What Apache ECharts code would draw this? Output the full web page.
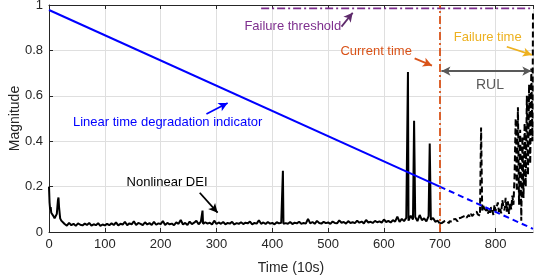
<!DOCTYPE html>
<html>
<head>
<meta charset="utf-8">
<script src="https://cdn.jsdelivr.net/npm/echarts@6/dist/echarts.min.js"></script>
<style>
  html, body { margin: 0; padding: 0; background: #fff; }
  #chart { width: 534px; height: 278px; }
</style>
</head>
<body>
<div id="chart"></div>
<script>
// ---- data ----
const xTicks = [0, 100, 200, 300, 400, 500, 600, 700, 800];
const yTicks = [0, 0.2, 0.4, 0.6, 0.8, 1];
const xMax = 867;

// nonlinear DEI, solid part (0 - 700), sampled every 4 time units
const deiSolidStep = 4;
const deiSolid = [
  0.200, 0.085, 0.070, 0.065, 0.140, 0.060, 0.045,
  0.035, 0.028, 0.040, 0.030, 0.036, 0.027, 0.038, 0.032, 0.029, 0.037,
  0.031, 0.040, 0.028, 0.034, 0.030, 0.039, 0.027, 0.033, 0.029, 0.036,
  0.030, 0.038, 0.031, 0.042, 0.029, 0.036, 0.033, 0.045, 0.030, 0.038,
  0.034, 0.047, 0.031, 0.040, 0.036, 0.030, 0.043, 0.033, 0.039, 0.031,
  0.045, 0.032, 0.038, 0.035, 0.048, 0.031, 0.040, 0.034, 0.037, 0.030,
  0.042, 0.036, 0.053, 0.033, 0.040, 0.031, 0.046, 0.035, 0.041, 0.050,
  0.034, 0.045, 0.036, 0.043, 0.037, 0.041, 0.033, 0.050, 0.035, 0.042,
  0.036, 0.044, 0.034, 0.040, 0.037, 0.045, 0.033, 0.039, 0.036, 0.043,
  0.035, 0.041, 0.038, 0.046, 0.034, 0.040, 0.037, 0.052, 0.036, 0.042,
  0.035, 0.044, 0.037, 0.040, 0.034, 0.043, 0.038, 0.041, 0.036, 0.039,
  0.036, 0.044, 0.035, 0.041, 0.038, 0.045, 0.036, 0.040, 0.037, 0.058,
  0.038, 0.044, 0.036, 0.049, 0.040, 0.037, 0.045, 0.039, 0.042, 0.036,
  0.046, 0.040, 0.038, 0.051, 0.041, 0.044, 0.037, 0.048, 0.040, 0.043,
  0.039, 0.050, 0.041, 0.046, 0.038, 0.053, 0.042, 0.045, 0.040, 0.049,
  0.043, 0.047, 0.041, 0.055, 0.044, 0.049, 0.042, 0.052, 0.046, 0.068,
  0.045, 0.058, 0.048, 0.062,
  0.050, 0.072, 0.055, 0.066, 0.048, 0.075, 0.052, 0.060, 0.047, 0.070,
  0.054, 0.062, 0.045, 0.050, 0.038
];
// extra samples between the regular ones (start-up transient and spikes)
const deiSolidExtra = [
  [1, 0.130], [2, 0.100], [3, 0.110], [6, 0.090], [10, 0.060], [14, 0.080],
  [17, 0.152], [18, 0.110], [22, 0.050],
  [275, 0.094], [419, 0.270], [643, 0.705], [654, 0.490], [682, 0.390]
];

// nonlinear DEI, dashed part (700 - 867), sampled every 2 time units
const deiDashStep = 2;
const deiDash = [
  0.038, 0.045, 0.040, 0.036, 0.047, 0.042, 0.050, 0.044, 0.039, 0.048,
  0.052, 0.045, 0.055, 0.049, 0.058, 0.051, 0.047, 0.060, 0.054, 0.063,
  0.057, 0.068, 0.060, 0.072, 0.063, 0.058, 0.075, 0.066, 0.080, 0.070,
  0.064, 0.082, 0.074, 0.090, 0.078, 0.085, 0.072, 0.460, 0.095, 0.115,
  0.100, 0.088, 0.105, 0.080, 0.095, 0.078, 0.110, 0.098, 0.075, 0.120,
  0.092, 0.085, 0.130, 0.088, 0.105, 0.082, 0.140, 0.115, 0.095, 0.150,
  0.090, 0.135, 0.080, 0.130, 0.100, 0.160, 0.120, 0.250,
  0.500, 0.180, 0.550, 0.120, 0.450, 0.050, 0.420, 0.150, 0.480, 0.200,
  0.600, 0.250, 0.650, 0.300, 0.720, 0.400
];
const deiDashExtra = [[867, 0.970]];

// linear time degradation indicator
const linSolidT = [0, 700];
const linSolidV = [0.978, 0.200];
const linDashT = [700, 867];
const linDashV = [0.200, 0.014];

// failure threshold and current time
const thresholdT = [380, 867];
const thresholdV = 0.985;
const currentTime = 700;

// ---- helpers ----
function samples(t0, step, vals, extra) {
  const pts = vals.map((v, i) => [t0 + i * step, v]).concat(extra);
  pts.sort((a, b) => a[0] - b[0]);
  return pts;
}
function pairs(ts, vs) {
  return ts.map((t, i) => [t, Array.isArray(vs) ? vs[i] : vs]);
}

const FONT = '"Liberation Sans", Arial, Helvetica, sans-serif';
const AXIS = '#262626';
const dashDot = [8, 3, 2, 3];

function arrow(from, to, color, both) {
  return [
    { coord: from, symbol: both ? 'arrow' : 'none', lineStyle: { color: color, width: 1.8, type: 'solid' } },
    { coord: to, symbol: 'arrow' }
  ];
}

const chart = echarts.init(document.getElementById('chart'), null, { renderer: 'canvas' });

const option = {
  backgroundColor: '#fff',
  animation: false,
  grid: { left: 49, right: 1, top: 5, bottom: 46, outerBoundsMode: 'none' },
  xAxis: [
    {
      type: 'value', min: 0, max: xMax, interval: 100,
      name: 'Time (10s)', nameLocation: 'middle', nameGap: 29,
      nameTextStyle: { color: AXIS, fontSize: 14, fontFamily: FONT },
      axisLine: { lineStyle: { color: AXIS, width: 1 } },
      axisTick: { inside: true, length: 4, lineStyle: { color: AXIS } },
      axisLabel: { color: AXIS, fontSize: 13, fontFamily: FONT, margin: 6, showMaxLabel: false },
      splitLine: { show: true, lineStyle: { color: '#dfdfdf', width: 1 } }
    },
    {
      // box line on top
      type: 'value', position: 'top', min: 0, max: xMax, interval: 100,
      axisLine: { show: true, lineStyle: { color: AXIS, width: 1 } },
      axisTick: { show: true, inside: true, length: 4, lineStyle: { color: AXIS } },
      axisLabel: { show: false },
      splitLine: { show: false }
    }
  ],
  yAxis: {
    type: 'value', min: 0, max: 1, interval: 0.2,
    name: 'Magnitude', nameLocation: 'middle', nameGap: 27, nameMoveOverlap: false,
    nameTextStyle: { color: AXIS, fontSize: 14, fontFamily: FONT },
    axisLine: { show: true, lineStyle: { color: AXIS, width: 1 } },
    axisTick: { show: true, inside: true, length: 4, lineStyle: { color: AXIS } },
    axisLabel: { color: AXIS, fontSize: 13, fontFamily: FONT, margin: 6 },
    splitLine: { show: true, lineStyle: { color: '#dfdfdf', width: 1 } }
  },
  series: [
    {
      name: 'Nonlinear DEI', type: 'line', symbol: 'none',
      data: samples(0, deiSolidStep, deiSolid, deiSolidExtra),
      lineStyle: { color: '#000', width: 2 }, z: 3
    },
    {
      name: 'Nonlinear DEI (future)', type: 'line', symbol: 'none',
      data: samples(700, deiDashStep, deiDash, deiDashExtra),
      lineStyle: { color: '#000', width: 2, type: [6, 3] }, z: 3
    },
    {
      name: 'Linear', type: 'line', symbol: 'none',
      data: pairs(linSolidT, linSolidV),
      lineStyle: { color: '#0000FF', width: 2 }, z: 4
    },
    {
      name: 'Linear (future)', type: 'line', symbol: 'none',
      data: pairs(linDashT, linDashV),
      lineStyle: { color: '#0000FF', width: 2, type: [6, 4] }, z: 4
    },
    {
      name: 'Failure threshold', type: 'line', symbol: 'none',
      data: pairs(thresholdT, thresholdV),
      lineStyle: { color: '#7E2F8E', width: 1.8, type: dashDot }, z: 4
    },
    {
      name: 'annotations', type: 'line', data: [], z: 5,
      markLine: {
        silent: true, animation: false,
        symbol: ['none', 'none'], symbolSize: [7, 9],
        label: { show: false },
        data: [
          { xAxis: currentTime, lineStyle: { color: '#D95319', width: 1.8, type: dashDot } },
          arrow([524, 0.905], [544, 0.966], '#5E2A6B'),
          arrow([655, 0.765], [686, 0.733], '#D95319'),
          arrow([820, 0.816], [865, 0.780], '#EDB120'),
          arrow([282, 0.520], [320, 0.568], '#0000FF'),
          arrow([270, 0.173], [302, 0.085], '#000000'),
          arrow([703, 0.709], [864, 0.709], '#595959', true)
        ]
      }
    }
  ]
};
chart.setOption(option);

// text labels placed in data coordinates
const labels = [
  { text: 'Failure threshold', at: [350, 0.907], color: '#7E2F8E', size: 13, align: 'left' },
  { text: 'Current time', at: [522, 0.794], color: '#D95319', size: 13, align: 'left' },
  { text: 'Failure time', at: [725, 0.855], color: '#EDB120', size: 13, align: 'left' },
  { text: 'RUL', at: [790, 0.648], color: '#595959', size: 14, align: 'center' },
  { text: 'Linear time degradation indicator', at: [43, 0.481], color: '#0000FF', size: 13, align: 'left' },
  { text: 'Nonlinear DEI', at: [139, 0.219], color: '#000000', size: 13, align: 'left' }
];
chart.setOption({
  graphic: labels.map(l => {
    const p = chart.convertToPixel({ gridIndex: 0 }, l.at);
    return {
      type: 'text', x: p[0], y: p[1], z: 10,
      style: { text: l.text, fill: l.color, font: l.size + 'px ' + FONT, align: l.align, verticalAlign: 'middle' }
    };
  })
});
</script>
</body>
</html>
